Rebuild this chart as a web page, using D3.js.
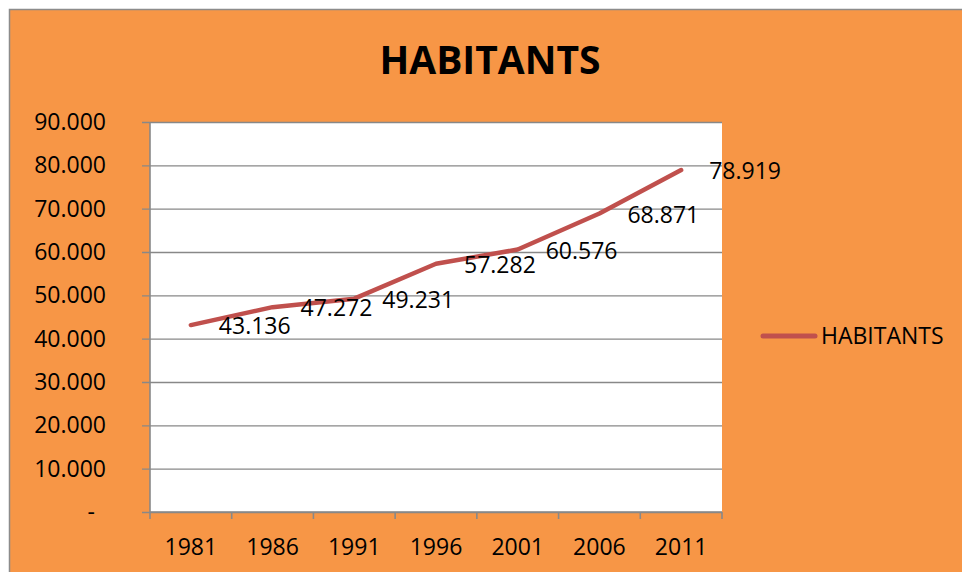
<!DOCTYPE html>
<html>
<head>
<meta charset="utf-8">
<script src="https://cdn.jsdelivr.net/npm/d3@7"></script>
<style>
  html, body { margin: 0; padding: 0; background: #ffffff; }
  svg { display: block; font-family: "Open Sans", sans-serif; }
</style>
</head>
<body>
<svg id="chart" width="962" height="572"></svg>
<script>
// Population by census year
const years = ["1981", "1986", "1991", "1996", "2001", "2006", "2011"];
const habitants = [43136, 47272, 49231, 57282, 60576, 68871, 78919];
const yTicks = [0, 10000, 20000, 30000, 40000, 50000, 60000, 70000, 80000, 90000];
const seriesName = "HABITANTS";
const chartTitle = "HABITANTS";

const svg = d3.select("#chart");
const W = 962, H = 572;
const plot = { left: 150, right: 722, top: 122, bottom: 512 };

// Thousands separator "." as in fr locale; zero shown as a dash
const fmt = v => v === 0 ? "-" : d3.format(",")(v).replace(/,/g, ".");

// Chart frame
svg.append("rect")
  .attr("x", 9.5).attr("y", 9.5)
  .attr("width", W + 20).attr("height", H + 20)
  .attr("fill", "#F79646")
  .attr("stroke", "#8C8C8C").attr("stroke-width", 1.5);

// Plot background
svg.append("rect")
  .attr("x", plot.left).attr("y", plot.top)
  .attr("width", plot.right - plot.left).attr("height", plot.bottom - plot.top)
  .attr("fill", "#FFFFFF");

const x = d3.scaleBand().domain(years).range([plot.left, plot.right]).padding(0);
const y = d3.scaleLinear().domain([0, 90000]).range([plot.bottom, plot.top]);

// Horizontal gridlines with outward tick marks
svg.append("g")
  .attr("transform", `translate(${plot.left},0)`)
  .call(d3.axisLeft(y).tickValues(yTicks).tickSize(8).tickFormat(""))
  .call(g => g.select(".domain").remove())
  .call(g => g.selectAll(".tick line")
      .attr("x2", plot.right - plot.left)
      .attr("x1", -8)
      .attr("stroke", "#888888").attr("stroke-width", 1.4));

// Y tick labels (accounting style: the zero dash sits inset from the right edge)
svg.append("g").selectAll("text")
  .data(yTicks).join("text")
  .attr("x", d => d === 0 ? 95 : 106).attr("y", d => y(d))
  .attr("dy", "0.35em")
  .attr("text-anchor", "end")
  .attr("font-size", 23).attr("fill", "#000")
  .text(fmt);

// Y axis line
svg.append("line")
  .attr("x1", plot.left).attr("x2", plot.left)
  .attr("y1", plot.top).attr("y2", plot.bottom)
  .attr("stroke", "#888888").attr("stroke-width", 1.6);

// X axis: line and ticks at category boundaries
svg.append("line")
  .attr("x1", plot.left).attr("x2", plot.right)
  .attr("y1", plot.bottom).attr("y2", plot.bottom)
  .attr("stroke", "#888888").attr("stroke-width", 1.6);

const boundaries = years.map(d => x(d)).concat([x(years[years.length - 1]) + x.bandwidth()]);
svg.append("g").selectAll("line")
  .data(boundaries).join("line")
  .attr("x1", d => d).attr("x2", d => d)
  .attr("y1", plot.bottom).attr("y2", plot.bottom + 7)
  .attr("stroke", "#888888").attr("stroke-width", 1.6);

svg.append("g").selectAll("text")
  .data(years).join("text")
  .attr("x", d => x(d) + x.bandwidth() / 2)
  .attr("y", 547).attr("dy", "0.35em")
  .attr("text-anchor", "middle")
  .attr("font-size", 23).attr("fill", "#000")
  .text(d => d);

// Series line
const line = d3.line()
  .x((d, i) => x(years[i]) + x.bandwidth() / 2)
  .y(d => y(d));

svg.append("path")
  .datum(habitants)
  .attr("d", line)
  .attr("fill", "none")
  .attr("stroke", "#C0504D")
  .attr("stroke-width", 4.5)
  .attr("stroke-linejoin", "round")
  .attr("stroke-linecap", "round");

// Data labels to the right of each point
svg.append("g").selectAll("text")
  .data(habitants).join("text")
  .attr("x", (d, i) => x(years[i]) + x.bandwidth() / 2 + 28)
  .attr("y", d => y(d) + 1)
  .attr("dy", "0.35em")
  .attr("font-size", 23).attr("fill", "#000")
  .text(fmt);

// Title
svg.append("text")
  .attr("x", 490).attr("y", 74)
  .attr("text-anchor", "middle")
  .attr("font-size", 39).attr("font-weight", "bold").attr("fill", "#000")
  .text(chartTitle);

// Legend
svg.append("line")
  .attr("x1", 763).attr("x2", 815)
  .attr("y1", 336).attr("y2", 336)
  .attr("stroke", "#C0504D").attr("stroke-width", 5)
  .attr("stroke-linecap", "round");
svg.append("text")
  .attr("x", 821).attr("y", 336).attr("dy", "0.35em")
  .attr("font-size", 23).attr("fill", "#000")
  .text(seriesName);
</script>
</body>
</html>
